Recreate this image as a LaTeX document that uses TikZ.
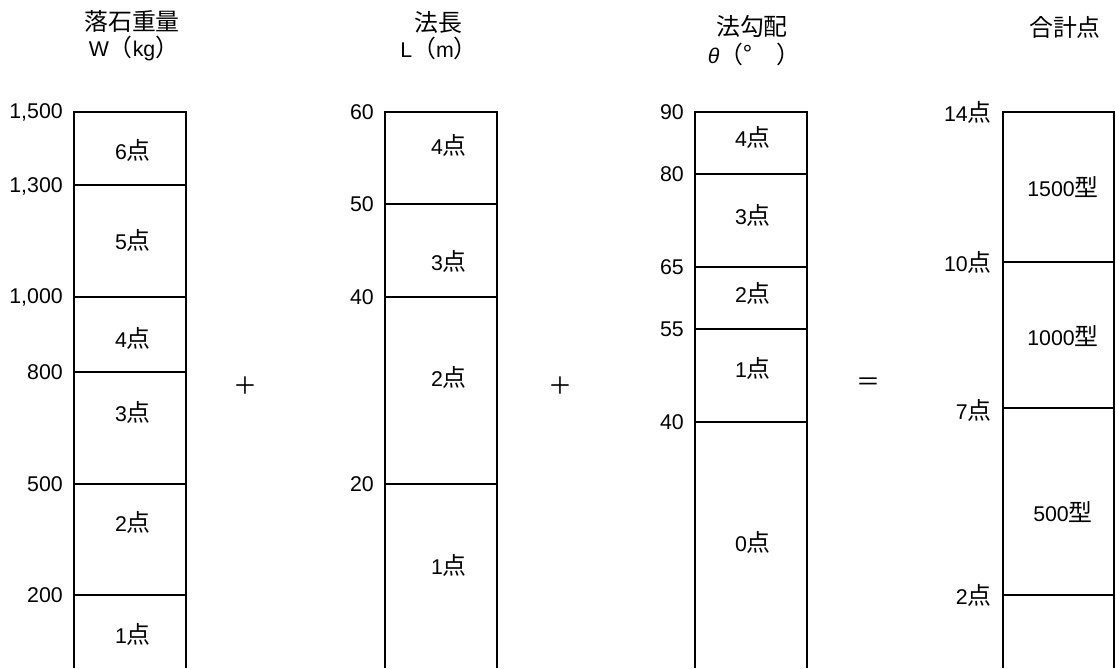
\documentclass[tikz,border=0pt]{standalone}
\usepackage{fontspec}
\setmainfont{Liberation Sans}
\newfontfamily\cjkfont{Noto Sans CJK JP}[Scale=1.12]
\newcommand\cj[1]{{\cjkfont #1}}
\begin{document}
\begin{tikzpicture}[x=0.75pt,y=-0.75pt,
  bar/.style={line width=1.7pt},
  div/.style={line width=1.7pt},
  txt/.style={font=\fontsize{16}{18}\selectfont, inner sep=0pt},
  tick/.style={txt, anchor=east},
  op/.style={font=\fontsize{16}{18}\selectfont, inner sep=0pt}]
\useasboundingbox (0,0) rectangle (1116,668);
% column 1
\node[txt] (t1a) at (132,21) {\cj{落石重量}};
\node[txt] (t1b) at (134,48) {W\cj{（}kg\cj{）}};
\draw[bar] (74,668) -- (74,112) -- (186,112) -- (186,668);
\foreach \y in {185,297,372,484,595} \draw[div] (74,\y) -- (186,\y);
\node[tick] (w1500) at (63,112) {1,500};
\node[tick] (w1300) at (63,186) {1,300};
\node[tick] (w1000) at (63,297) {1,000};
\node[tick] (w800) at (63,372) {800};
\node[tick] (w500) at (63,484) {500};
\node[tick] (w200) at (63,595) {200};
\node[txt] (p16) at (133,150) {6\cj{点}};
\node[txt] (p15) at (133,240) {5\cj{点}};
\node[txt] (p14) at (133,338) {4\cj{点}};
\node[txt] (p13) at (133,412) {3\cj{点}};
\node[txt] (p12) at (133,522) {2\cj{点}};
\node[txt] (p11) at (133,634) {1\cj{点}};
\node[op] (plus1) at (245,386) {\cj{＋}};
% column 2
\node[txt] (t2a) at (438,22) {\cj{法長}};
\node[txt] (t2b) at (439,48) {L\cj{（}m\cj{）}};
\draw[bar] (385,668) -- (385,112) -- (497,112) -- (497,668);
\foreach \y in {204,297,484} \draw[div] (385,\y) -- (497,\y);
\node[tick] (l60) at (374,112) {60};
\node[tick] (l50) at (374,204) {50};
\node[tick] (l40) at (374,297) {40};
\node[tick] (l20) at (374,484) {20};
\node[txt] (p24) at (449,145) {4\cj{点}};
\node[txt] (p23) at (449,261) {3\cj{点}};
\node[txt] (p22) at (449,377) {2\cj{点}};
\node[txt] (p21) at (449,565) {1\cj{点}};
\node[op] (plus2) at (560,386) {\cj{＋}};
% column 3
\node[txt] (t3a) at (752,26) {\cj{法勾配}};
\node[txt] (t3b) at (754,54) {\textit{θ}\cj{（°　）}};
\draw[bar] (695,668) -- (695,112) -- (807,112) -- (807,668);
\foreach \y in {174,267,329,422} \draw[div] (695,\y) -- (807,\y);
\node[tick] (a90) at (684,112) {90};
\node[tick] (a80) at (684,174) {80};
\node[tick] (a65) at (684,267) {65};
\node[tick] (a55) at (684,329) {55};
\node[tick] (a40) at (684,422) {40};
\node[txt] (p34) at (753,137) {4\cj{点}};
\node[txt] (p33) at (753,215) {3\cj{点}};
\node[txt] (p32) at (753,293) {2\cj{点}};
\node[txt] (p31) at (753,368) {1\cj{点}};
\node[txt] (p30) at (753,542) {0\cj{点}};
\node[op] (eq) at (868,384) {\cj{＝}};
% column 4
\node[txt] (t4) at (1065,27) {\cj{合計点}};
\draw[bar] (1003,668) -- (1003,112) -- (1114,112) -- (1114,668);
\foreach \y in {262,408,595} \draw[div] (1003,\y) -- (1114,\y);
\node[tick] (s14) at (992,112) {14\cj{点}};
\node[tick] (s10) at (992,262) {10\cj{点}};
\node[tick] (s7) at (992,410) {7\cj{点}};
\node[tick] (s2) at (992,595) {2\cj{点}};
\node[txt] (k1500) at (1063,187) {1500\cj{型}};
\node[txt] (k1000) at (1063,336) {1000\cj{型}};
\node[txt] (k500) at (1063,512) {500\cj{型}};
\end{tikzpicture}
\end{document}
